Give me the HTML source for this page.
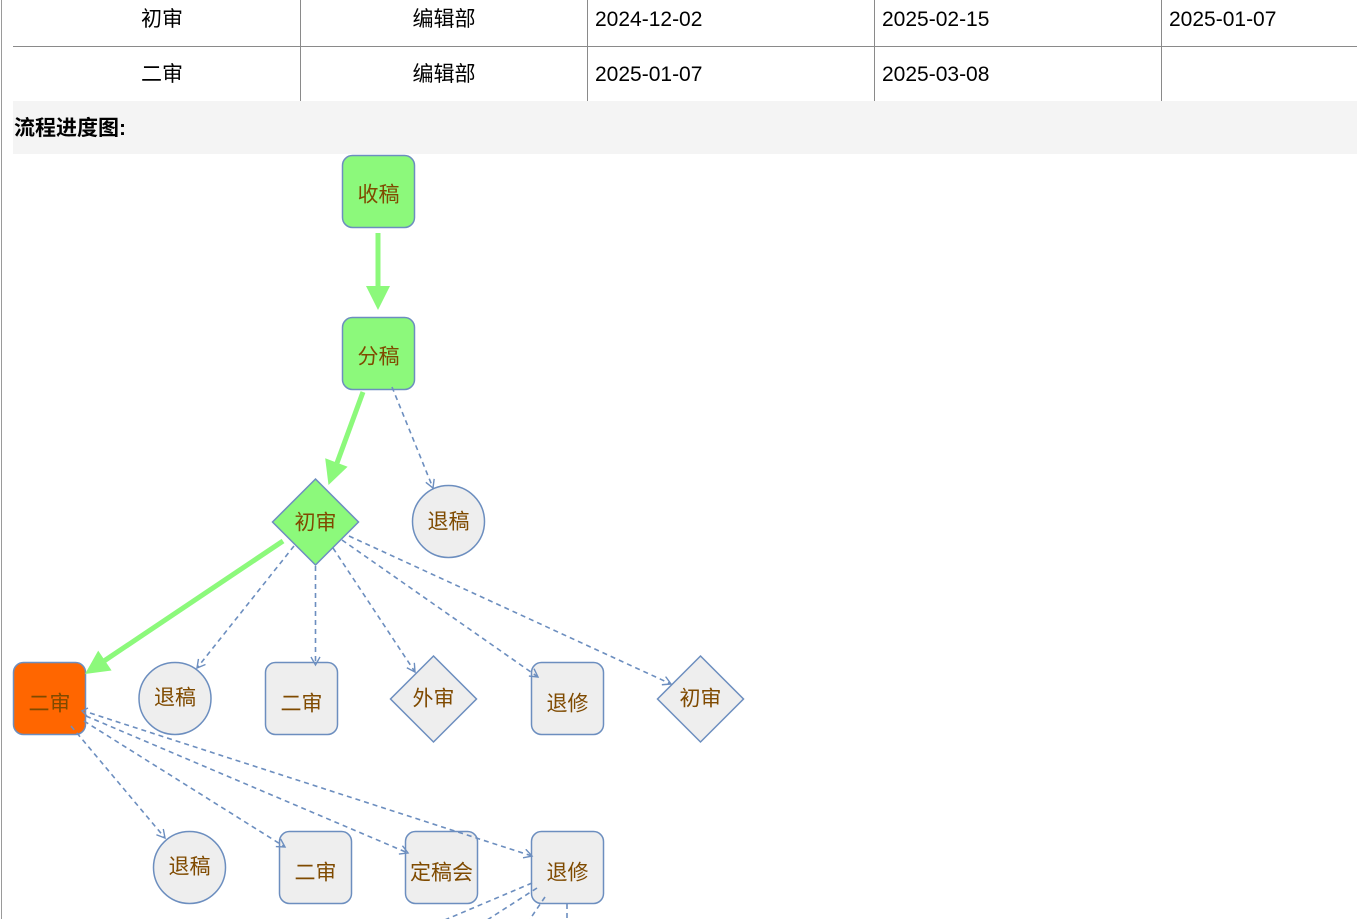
<!DOCTYPE html>
<html><head><meta charset="utf-8"><style>
html,body{margin:0;padding:0;background:#fff;width:1357px;height:919px;overflow:hidden;}
body{position:relative;font-family:"Liberation Sans","Noto Sans CJK SC",sans-serif;}
.t{position:absolute;font-size:21px;color:#000;line-height:24px;white-space:nowrap;}
.c{transform:translateX(-50%);}
.vl{position:absolute;top:0;width:1px;height:101px;background:#8a8a8a;}
</style></head><body>
<div style="position:absolute;left:1px;top:0;width:1px;height:919px;background:#9a9a9a;"></div>
<div style="position:absolute;left:13px;top:46px;width:1344px;height:1px;background:#8a8a8a;"></div>
<div class="vl" style="left:300px"></div>
<div class="vl" style="left:587px"></div>
<div class="vl" style="left:874px"></div>
<div class="vl" style="left:1161px"></div>
<div class="t c" style="left:162px;top:8px;">初审</div>
<div class="t c" style="left:444px;top:8px;">编辑部</div>
<div class="t" style="left:595px;top:8px;">2024-12-02</div>
<div class="t" style="left:882px;top:8px;">2025-02-15</div>
<div class="t" style="left:1169px;top:8px;">2025-01-07</div>
<div class="t c" style="left:162px;top:63px;">二审</div>
<div class="t c" style="left:444px;top:63px;">编辑部</div>
<div class="t" style="left:595px;top:63px;">2025-01-07</div>
<div class="t" style="left:882px;top:63px;">2025-03-08</div>
<div style="position:absolute;left:13px;top:101px;width:1344px;height:53px;background:#f4f4f4;"></div>
<div class="t" style="left:14px;top:117px;font-weight:bold;">流程进度图:</div>

<svg width="1357" height="919" style="position:absolute;left:0;top:0;" xmlns="http://www.w3.org/2000/svg">
<defs>
<marker id="a" markerUnits="userSpaceOnUse" markerWidth="12" markerHeight="12" refX="9" refY="5" orient="auto">
<path d="M1,0.5 L9,5 L1,9.5" fill="none" stroke="#6c8ebf" stroke-width="1.4"/>
</marker>
</defs>
<g font-family="'Liberation Sans','Noto Sans CJK SC',sans-serif" font-size="21" text-anchor="middle" dominant-baseline="central" fill="#7f4a00">
<!-- row 0 -->
<rect x="342.5" y="155.5" width="72" height="72" rx="10" fill="#8cf97b" stroke="#6c8ebf" stroke-width="1.5"/>
<text x="378.5" y="195">收稿</text>
<rect x="342.5" y="317.5" width="72" height="72" rx="10" fill="#8cf97b" stroke="#6c8ebf" stroke-width="1.5"/>
<text x="378.5" y="357">分稿</text>
<polygon points="315.5,479 358.5,522 315.5,565 272.5,522" fill="#8cf97b" stroke="#6c8ebf" stroke-width="1.5"/>
<text x="315.5" y="523">初审</text>
<circle cx="448.5" cy="521.5" r="36" fill="#eeeeee" stroke="#6c8ebf" stroke-width="1.5"/>
<text x="448.5" y="522">退稿</text>
<!-- row 1 -->
<rect x="13.5" y="662.5" width="72" height="72" rx="10" fill="#ff6600" stroke="#6c8ebf" stroke-width="1.5"/>
<text x="49.5" y="704">二审</text>
<circle cx="175" cy="698.5" r="36" fill="#eeeeee" stroke="#6c8ebf" stroke-width="1.5"/>
<text x="175" y="698">退稿</text>
<rect x="265.5" y="662.5" width="72" height="72" rx="10" fill="#eeeeee" stroke="#6c8ebf" stroke-width="1.5"/>
<text x="301.5" y="704">二审</text>
<polygon points="433.5,656 476.5,699 433.5,742 390.5,699" fill="#eeeeee" stroke="#6c8ebf" stroke-width="1.5"/>
<text x="433.5" y="699">外审</text>
<rect x="531.5" y="662.5" width="72" height="72" rx="10" fill="#eeeeee" stroke="#6c8ebf" stroke-width="1.5"/>
<text x="567.5" y="704">退修</text>
<polygon points="700.5,656 743.5,699 700.5,742 657.5,699" fill="#eeeeee" stroke="#6c8ebf" stroke-width="1.5"/>
<text x="700.5" y="699">初审</text>
<!-- row 2 -->
<ellipse cx="189.5" cy="867.5" rx="36" ry="36" fill="#eeeeee" stroke="#6c8ebf" stroke-width="1.5"/>
<text x="189.5" y="867">退稿</text>
<rect x="279.5" y="831.5" width="72" height="72" rx="10" fill="#eeeeee" stroke="#6c8ebf" stroke-width="1.5"/>
<text x="315.5" y="873">二审</text>
<rect x="405.5" y="831.5" width="72" height="72" rx="10" fill="#eeeeee" stroke="#6c8ebf" stroke-width="1.5"/>
<text x="441.5" y="873">定稿会</text>
<rect x="531.5" y="831.5" width="72" height="72" rx="10" fill="#eeeeee" stroke="#6c8ebf" stroke-width="1.5"/>
<text x="567.5" y="873">退修</text>
</g>

<!-- green arrows -->
<g fill="#8cf97b" stroke="none">
<line x1="378" y1="233" x2="378" y2="290" stroke="#8cf97b" stroke-width="5"/>
<polygon points="378,310 366,286 390,286"/>
<line x1="363" y1="392" x2="337" y2="463" stroke="#8cf97b" stroke-width="5"/>
<polygon points="328.5,485 325.2,458.3 347.6,466.7"/>
<line x1="283" y1="541" x2="104" y2="661" stroke="#8cf97b" stroke-width="5"/>
<polygon points="85,674 98.2,650.6 111.6,670.5"/>
</g>

<!-- dashed arrows -->
<g fill="none" stroke="#6c8ebf" stroke-width="1.6" stroke-dasharray="5,4" marker-end="url(#a)">
<line x1="392" y1="387" x2="433" y2="488"/>
<line x1="294" y1="546" x2="197" y2="668"/>
<line x1="315.5" y1="566" x2="315.5" y2="665"/>
<line x1="333" y1="548" x2="415" y2="672"/>
<line x1="342" y1="540" x2="538" y2="677"/>
<line x1="349" y1="536" x2="671" y2="684"/>
<line x1="71" y1="726" x2="165" y2="838"/>
<line x1="84" y1="721" x2="285" y2="847"/>
<line x1="86" y1="716" x2="408" y2="853"/>
<line x1="90" y1="713" x2="532" y2="856"/>
</g>
<path d="M88,708 L82,711 L87,716" fill="none" stroke="#6c8ebf" stroke-width="1.4"/>
<g fill="none" stroke="#6c8ebf" stroke-width="1.6" stroke-dasharray="5,4">
<line x1="532" y1="883" x2="440" y2="922"/>
<line x1="537" y1="888" x2="484" y2="922"/>
<line x1="545" y1="897" x2="528" y2="922"/>
<line x1="567" y1="904" x2="567" y2="922"/>
</g>
</svg>
</body></html>
